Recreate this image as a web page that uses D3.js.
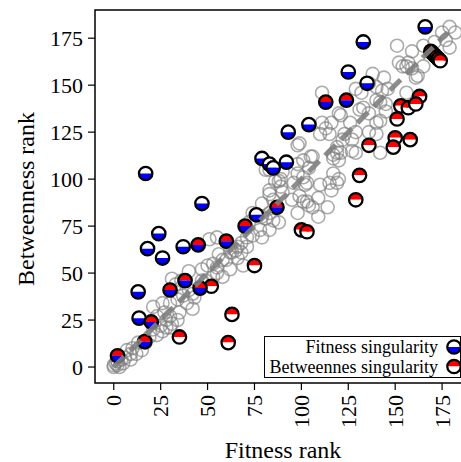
<!DOCTYPE html>
<html>
<head>
<meta charset="utf-8">
<script src="https://cdn.jsdelivr.net/npm/d3@7"></script>
<style>
  body { margin: 0; background: #fff; }
  text { font-family: "Liberation Serif", "DejaVu Serif", serif; fill: #000; }
</style>
</head>
<body>
<svg id="svg"></svg>
<script>
// every node: [fitness rank, betweenness rank]
const allNodes = [
  [0,0],[0,1],[1,2],[2,1],[2,3],[3,0],[4,4],[5,2],[6,5],[7,9],[9,7],[9,4],[10,10],[12,7],
  [13,13],[15,9],[17,13],[19,16],[21,20],[21,32],[23,17],[23,27],[25,22],[26,19],[26,34],
  [27,29],[28,25],[28,21],[30,21],[30,27],[30,34],[31,23],[31,47],[33,44],[34,25],[34,36],
  [35,29],[36,46],[37,38],[39,34],[40,41],[40,51],[42,31],[42,39],[43,37],
  [47,46],[47,52],[49,46],[50,54],[51,68],[53,48],[53,55],[55,50],[55,53],[55,69],[56,60],
  [58,48],[58,57],[60,57],[62,52],[62,61],[63,61],[65,62],[66,58],[66,64],[68,61],[68,66],
  [69,54],[71,64],[71,69],[72,77],[74,70],[74,82],[78,73],[79,69],[79,80],[79,87],[81,79],
  [81,105],[83,73],[83,82],[83,92],[83,94],[83,105],[85,78],[85,89],[86,99],[88,77],[88,99],
  [89,96],[89,100],[90,93],[90,104],[95,89],[96,98],[98,82],[98,103],[98,108],[98,118],
  [99,91],[99,119],[101,88],[101,101],[101,110],[102,97],[103,88],[103,98],[104,86],[104,106],
  [105,112],[106,85],[106,112],[109,80],[109,90],[110,97],[110,124],[111,130],[111,146],
  [113,127],[114,85],[115,98],[115,124],[116,94],[116,130],[117,103],[117,111],[117,113],
  [119,98],[119,114],[119,117],[120,100],[120,110],[120,135],[121,114],[121,134],[122,121],
  [123,124],[126,130],[127,115],[127,121],[129,114],[129,125],[129,148],[131,137],[132,146],
  [133,138],[136,125],[136,135],[136,151],[138,156],[140,124],[140,130],[140,142],[140,149],
  [142,114],[142,131],[142,141],[143,147],[144,154],[145,136],[145,140],[146,148],[151,171],
  [152,162],[154,160],[156,146],[156,160],[157,162],[159,159],[159,168],[161,154],[162,155],
  [165,160],[165,171],[171,173],[175,178],[177,174],[179,170],[179,181],[182,178]
];

// nodes flagged as fitness singularity only
const fitnessSing = [
  [17,103],[79,111],[83,108],[85,106],[92,109],[166,181],[133,173],[125,157],[135,151],
  [104,129],[93,125],[47,87],[24,71],[18,63],[26,58],[37,64],[76,81],[13,40],[13.5,26]
];

// nodes flagged as betweenness singularity only
const betweenSing = [
  [169,168],[170,167],[171,166],[172,165],[173,164],[174,163],
  [163,144],[153,139],[157,138],[161,140],[151,132],[150,122],[158,121],[149,117],[136,118],
  [131,102],[129,89],[100,73],[103,72],[75,54],[52,43],[63,28],[35,16],[61,13]
];

// nodes flagged as both
const bothSing = [
  [113,141],[124,142],[87,85],[45,65],[60,67],[70,75],[30,41],[38,46],[46,42],[20,24],
  [16.5,13.5],[2,6]
];

const xTicks = [0, 25, 50, 75, 100, 125, 150, 175];
const yTicks = [0, 25, 50, 75, 100, 125, 150, 175];
const diagonal = [[0, 0], [178, 178]];

const width = 461;
const height = 462;
const m = { left: 95, top: 10, right: 464.6, bottom: 383 };

const x = d3.scaleLinear().domain([-10, 187]).range([m.left, m.right]);
const y = d3.scaleLinear().domain([-8.5, 190]).range([m.bottom, m.top]);

const svg = d3.select('#svg')
  .attr('width', width)
  .attr('height', height);

const plot = svg.append('g');

// grey open circles for all nodes
plot.selectAll('.node').data(allNodes)
  .enter().append('circle')
  .attr('class', 'node')
  .attr('cx', d => x(d[0]))
  .attr('cy', d => y(d[1]))
  .attr('r', 6.5)
  .attr('fill', 'none')
  .attr('stroke', '#808080')
  .attr('stroke-opacity', 0.65)
  .attr('stroke-width', 1.6);

// half filled markers
const r = 6.7;
const topArc = d3.arc().innerRadius(0).outerRadius(r).startAngle(-Math.PI / 2).endAngle(Math.PI / 2);
const botArc = d3.arc().innerRadius(0).outerRadius(r).startAngle(Math.PI / 2).endAngle(Math.PI * 1.5);

const drawMarker = (g, topColor, botColor) => {
  g.append('path').attr('d', topArc()).attr('fill', topColor);
  g.append('path').attr('d', botArc()).attr('fill', botColor);
  g.append('circle').attr('r', r).attr('fill', 'none')
    .attr('stroke', '#000').attr('stroke-width', 2.3);
};

const singSets = [
  { pts: betweenSing, top: '#ff0000', bot: '#ffffff' },
  { pts: fitnessSing, top: '#ffffff', bot: '#0000ff' },
  { pts: bothSing, top: '#ff0000', bot: '#0000ff' }
];

singSets.forEach(s => {
  plot.selectAll(null).data(s.pts)
    .enter().append('g')
    .attr('transform', d => `translate(${x(d[0])},${y(d[1])})`)
    .each(function () { drawMarker(d3.select(this), s.top, s.bot); });
});

// dashed diagonal
const line = d3.line().x(d => x(d[0])).y(d => y(d[1]));
plot.append('path')
  .attr('d', line(diagonal))
  .attr('stroke', '#808080')
  .attr('stroke-width', 5)
  .attr('stroke-dasharray', '15,8')
  .attr('stroke-opacity', 0.9)
  .attr('fill', 'none');

// frame
svg.append('rect')
  .attr('x', m.left).attr('y', m.top)
  .attr('width', m.right - m.left).attr('height', m.bottom - m.top)
  .attr('fill', 'none').attr('stroke', '#000').attr('stroke-width', 1.5);

// y axis
const yAxis = svg.append('g');
yTicks.forEach(t => {
  yAxis.append('line')
    .attr('x1', m.left - 7).attr('x2', m.left)
    .attr('y1', y(t)).attr('y2', y(t))
    .attr('stroke', '#000').attr('stroke-width', 1.2);
  yAxis.append('text')
    .attr('x', m.left - 12).attr('y', y(t))
    .attr('text-anchor', 'end')
    .attr('dominant-baseline', 'central')
    .style('font-size', '22px')
    .text(t);
});

// x axis, labels rotated
const xAxis = svg.append('g');
xTicks.forEach(t => {
  xAxis.append('line')
    .attr('x1', x(t)).attr('x2', x(t))
    .attr('y1', m.bottom).attr('y2', m.bottom + 7)
    .attr('stroke', '#000').attr('stroke-width', 1.2);
  xAxis.append('text')
    .attr('transform', `translate(${x(t)},${m.bottom + 12}) rotate(-90)`)
    .attr('text-anchor', 'end')
    .attr('dominant-baseline', 'central')
    .style('font-size', '22px')
    .text(t);
});

svg.append('text')
  .attr('transform', 'translate(26,199) rotate(-90)')
  .attr('text-anchor', 'middle')
  .attr('dominant-baseline', 'central')
  .style('font-size', '24px')
  .text('Betweenness rank');

svg.append('text')
  .attr('x', 283).attr('y', 450)
  .attr('text-anchor', 'middle')
  .attr('dominant-baseline', 'central')
  .style('font-size', '24px')
  .text('Fitness rank');

// legend
const legend = svg.append('g');
legend.append('rect')
  .attr('x', 264.5).attr('y', 336.5)
  .attr('width', 196).attr('height', 41)
  .attr('fill', '#fff').attr('stroke', '#000').attr('stroke-width', 1);

const legendItems = [
  { label: 'Fitness singularity', top: '#ffffff', bot: '#0000ff' },
  { label: 'Betweennes singularity', top: '#ff0000', bot: '#ffffff' }
];
legendItems.forEach((it, i) => {
  const cy = 347 + i * 19.5;
  legend.append('text')
    .attr('x', 438).attr('y', cy)
    .attr('text-anchor', 'end')
    .attr('dominant-baseline', 'central')
    .style('font-size', '18px')
    .text(it.label);
  const g = legend.append('g').attr('transform', `translate(454,${cy})`);
  drawMarker(g, it.top, it.bot);
});
</script>
</body>
</html>
